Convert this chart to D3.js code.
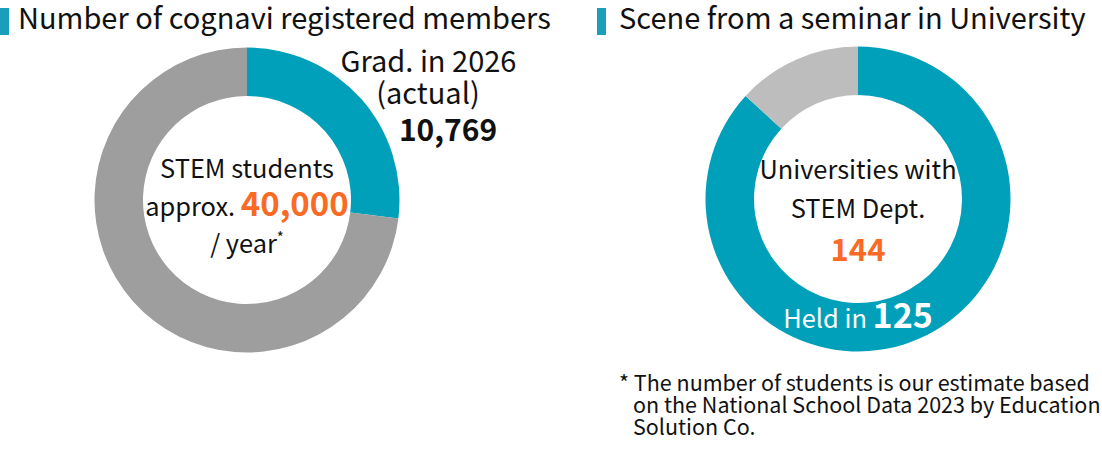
<!DOCTYPE html>
<html><head><meta charset="utf-8">
<script src="https://cdn.jsdelivr.net/npm/d3@7"></script>
<style>
html,body{margin:0;padding:0;background:#fff;}
svg{display:block;font-family:"Noto Sans CJK JP","Noto Sans",sans-serif;}
</style></head>
<body>
<svg id="c" width="1102" height="460"></svg>
<script>
const titles = ["Number of cognavi registered members", "Scene from a seminar in University"];
const leftCategories = ["Grad. in 2026 (actual)", "Other STEM students"];
const leftValues = [10769, 29231];
const leftTotal = 40000;
const rightCategories = ["Held in", "Not held"];
const rightValues = [125, 19];
const rightTotal = 144;
const footnote = ["* The number of students is our estimate based", "on the National School Data 2023 by Education", "Solution Co."];

const teal = "#00a0bb", orange = "#f96b24";
const svg = d3.select("#c");

// titles
[[0, 18], [597, 619]].forEach(([bx, tx], i) => {
  svg.append("rect").attr("x", bx).attr("y", 8).attr("width", 9).attr("height", 27).attr("fill", "#1a9fba");
  svg.append("text").attr("x", tx).attr("y", 28.5).attr("font-size", 29).attr("fill", "#111").text(titles[i]);
});

const pie = d3.pie().sort(null).value(d => d);
const arc = d3.arc().innerRadius(104).outerRadius(152.5);

function donut(cx, cy, values, colors) {
  const g = svg.append("g").attr("transform", `translate(${cx},${cy})`);
  g.selectAll("path").data(pie(values)).join("path")
    .attr("d", arc).attr("fill", (d, i) => colors[i]);
  return g;
}

const gl = donut(247, 200, leftValues, [teal, "#9e9e9e"]);
const gr = donut(858, 199, rightValues, [teal, "#bdbdbd"]);

const fmt = d3.format(",");
const fs = 25.4;

// left center text
gl.append("text").attr("x", 0).attr("y", -22).attr("text-anchor", "middle").attr("font-size", fs).attr("fill", "#111").text("STEM students");
const t2 = gl.append("text").attr("x", 0).attr("y", 16).attr("text-anchor", "middle").attr("fill", "#111");
t2.append("tspan").attr("font-size", fs).text("approx. ");
t2.append("tspan").attr("font-size", 33).attr("font-weight", "bold").attr("fill", orange).text(fmt(leftTotal));
const t3 = gl.append("text").attr("x", 0).attr("y", 53).attr("text-anchor", "middle").attr("fill", "#111");
t3.append("tspan").attr("font-size", fs).text("/ year");
t3.append("tspan").attr("font-size", 15).attr("dy", -10).text("*");

// left outside label
svg.append("text").attr("x", 428.5).attr("y", 72).attr("text-anchor", "middle").attr("font-size", 29).attr("fill", "#111").text("Grad. in 2026");
svg.append("text").attr("x", 428).attr("y", 104).attr("text-anchor", "middle").attr("font-size", 29).attr("fill", "#111").text("(actual)");
svg.append("text").attr("x", 448).attr("y", 141).attr("text-anchor", "middle").attr("font-size", 30).attr("font-weight", "bold").attr("fill", "#111").text(fmt(leftValues[0]));

// right center text
gr.append("text").attr("x", 0).attr("y", -20).attr("text-anchor", "middle").attr("font-size", fs).attr("fill", "#111").text("Universities with");
gr.append("text").attr("x", 0).attr("y", 19).attr("text-anchor", "middle").attr("font-size", fs).attr("fill", "#111").text("STEM Dept.");
gr.append("text").attr("x", 0).attr("y", 62).attr("text-anchor", "middle").attr("font-size", 31).attr("font-weight", "bold").attr("fill", orange).text(rightTotal);
const t4 = gr.append("text").attr("x", 0).attr("y", 129).attr("text-anchor", "middle").attr("fill", "#fff");
t4.append("tspan").attr("font-size", fs).text(rightCategories[0] + " ");
t4.append("tspan").attr("font-size", 34).attr("font-weight", "bold").text(rightValues[0]);

// footnote
const fn = svg.append("text").attr("font-size", 21.5).attr("fill", "#111");
fn.append("tspan").attr("x", 619).attr("y", 391).text(footnote[0]);
fn.append("tspan").attr("x", 633).attr("y", 413).text(footnote[1]);
fn.append("tspan").attr("x", 633).attr("y", 435).text(footnote[2]);
</script>
</body></html>
